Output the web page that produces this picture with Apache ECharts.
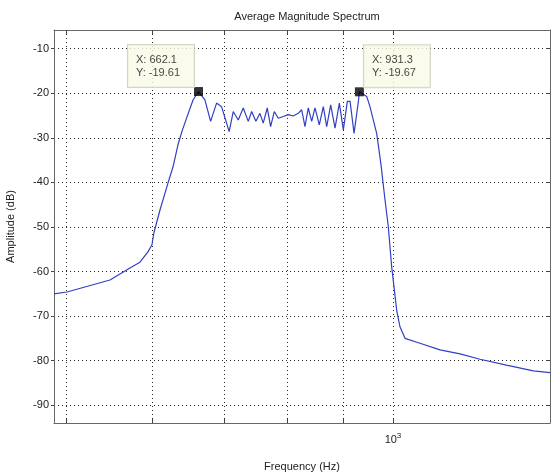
<!DOCTYPE html>
<html>
<head>
<meta charset="utf-8">
<script src="https://cdn.jsdelivr.net/npm/echarts@6/dist/echarts.min.js"></script>
<style>
  html, body { margin: 0; padding: 0; background: #fff; }
  #chart { width: 552px; height: 473px; }
</style>
</head>
<body>
<div id="chart"></div>
<script>
// spectrum (Hz, dB)
var freqHz = [487.4, 501, 548.8, 572.6, 584.8, 594.8, 599.9, 602.4, 610.2, 620.7,
  627.3, 634.0, 639.4, 646.2, 654.5, 662.1, 671.2, 679.3, 688.0, 695.3,
  706.6, 712.7, 720.3, 728.0, 735.8, 741.1, 747.8, 754.2, 759.5, 766.0,
  771.5, 777.5, 784.1, 792.5, 800.9, 809.4, 818.0, 824.0, 829.8, 835.6,
  841.7, 847.6, 855.4, 862.7, 868.9, 876.3, 884.4, 892.5, 900.1, 907.8,
  913.0, 920.8, 929.3, 931.3, 945.8, 952.4, 966.0, 974.9, 983.2, 990.1,
  997.2, 1002.1, 1007.9, 1014.9, 1025.8, 1058.9, 1104.9, 1152.7, 1202.6, 1272.0,
  1346.8, 1395];
var ampDb = [-65.0, -64.6, -61.9, -59.2, -57.9, -55.6, -54.0, -51.3, -46.2, -40.1,
  -36.5, -31.5, -28.5, -25.3, -21.5, -19.61, -21.5, -26.3, -22.2, -23.0,
  -28.6, -24.1, -26.0, -23.3, -26.3, -24.1, -26.3, -24.5, -26.7, -23.3,
  -27.5, -24.1, -25.6, -25.2, -24.8, -25.1, -24.5, -23.7, -27.5, -23.3,
  -26.3, -23.3, -27.1, -23.0, -27.5, -22.6, -27.8, -22.2, -28.2, -21.8,
  -21.8, -29.0, -21.8, -19.67, -20.7, -23.0, -29.0, -36.0, -43.9, -49.9,
  -58.9, -63.4, -68.7, -72.4, -75.0, -76.1, -77.6, -78.5, -79.7, -81.0,
  -82.3, -82.7];

// data cursors
var cursorX = [662.1, 931.3];
var cursorY = [-19.61, -19.67];

// axis ticks
var xGridHz = [500, 600, 700, 800, 900, 1000];
var xLabelHz = [1000];
var yTicks = [-90, -80, -70, -60, -50, -40, -30, -20, -10];

var xMinHz = 487.4, xMaxHz = 1395;
var yMin = -94, yMax = -5.8;

var font = "'Liberation Sans', Arial, sans-serif";
var log10 = function (v) { return Math.log(v) / Math.LN10; };

var lineData = freqHz.map(function (f, i) { return [log10(f), ampDb[i]]; });
var boxW = 66;
var cursorData = cursorX.map(function (f, i) {
  var txt = 'X: ' + f + '\nY: ' + cursorY[i];
  return {
    value: [log10(f), cursorY[i]],
    label: {
      show: true,
      formatter: txt,
      // first box sits up-left of its marker, second up-right
      position: i === 0 ? [-boxW, 0] : ['100%', 0]
    }
  };
});

var chart = echarts.init(document.getElementById('chart'));

var xBase = {
  type: 'value',
  min: log10(xMinHz),
  max: log10(xMaxHz),
  axisLine: { show: true, lineStyle: { color: '#666', width: 1 } },
  axisTick: { show: true, inside: true, length: 4, customValues: xGridHz.map(log10), lineStyle: { color: '#444' } },
  minorTick: { show: false }
};
var yBase = {
  type: 'value',
  min: yMin,
  max: yMax,
  axisLine: { show: true, lineStyle: { color: '#666', width: 1 } },
  axisTick: { show: true, inside: true, length: 4, customValues: yTicks, lineStyle: { color: '#444' } }
};

var option = {
  backgroundColor: '#fff',
  animation: false,
  title: {
    text: 'Average Magnitude Spectrum',
    left: 302,
    textAlign: 'center',
    top: 6,
    textStyle: { fontFamily: font, fontSize: 11, fontWeight: 'normal', color: '#222' }
  },
  grid: { left: 54, top: 30, width: 496, height: 393, show: false, containLabel: false, outerBoundsMode: 'none' },
  xAxis: [
    Object.assign({}, xBase, {
      position: 'bottom',
      name: 'Frequency (Hz)',
      nameLocation: 'middle',
      nameGap: 38,
      nameTextStyle: { fontFamily: font, fontSize: 11, color: '#222' },
      axisLabel: {
        margin: 9,
        customValues: xLabelHz.map(log10),
        formatter: function () { return '{b|10}{s|3}'; },
        rich: {
          b: { fontFamily: font, fontSize: 11, color: '#222' },
          s: { fontFamily: font, fontSize: 8, color: '#222', verticalAlign: 'top', padding: [0, 0, 7, 0] }
        }
      },
      splitLine: { show: true, lineStyle: { color: '#222', width: 1, type: [1, 3] } }
    }),
    Object.assign({}, xBase, {
      position: 'top',
      axisLabel: { show: false },
      splitLine: { show: false }
    })
  ],
  yAxis: [
    Object.assign({}, yBase, {
      position: 'left',
      name: 'Amplitude (dB)',
      nameLocation: 'middle',
      nameGap: 38,
      nameTextStyle: { fontFamily: font, fontSize: 11, color: '#222' },
      axisTick: { show: true, inside: false, length: 3, customValues: yTicks, lineStyle: { color: '#444' } },
      axisLabel: {
        margin: 5,
        customValues: yTicks,
        fontFamily: font, fontSize: 11, color: '#222'
      },
      splitLine: { show: true, lineStyle: { color: '#222', width: 1, type: [1, 3] } }
    }),
    Object.assign({}, yBase, {
      position: 'right',
      axisLabel: { show: false },
      splitLine: { show: false }
    })
  ],
  series: [
    {
      type: 'line',
      data: lineData,
      symbol: 'none',
      lineStyle: { color: '#3040c4', width: 1.2 },
      clip: true,
      z: 2
    },
    {
      type: 'scatter',
      data: cursorData,
      symbol: 'rect',
      symbolSize: 9,
      itemStyle: { color: '#000' },
      label: {
        fontFamily: font,
        fontSize: 11,
        lineHeight: 13,
        color: '#111',
        align: 'left',
        verticalAlign: 'bottom',
        width: boxW - 16,
        backgroundColor: '#fafae6',
        borderColor: '#c9c9b8',
        borderWidth: 1,
        padding: [8, 8, 8, 8]
      },
      z: 5
    }
  ]
};

chart.setOption(option);
</script>
</body>
</html>
